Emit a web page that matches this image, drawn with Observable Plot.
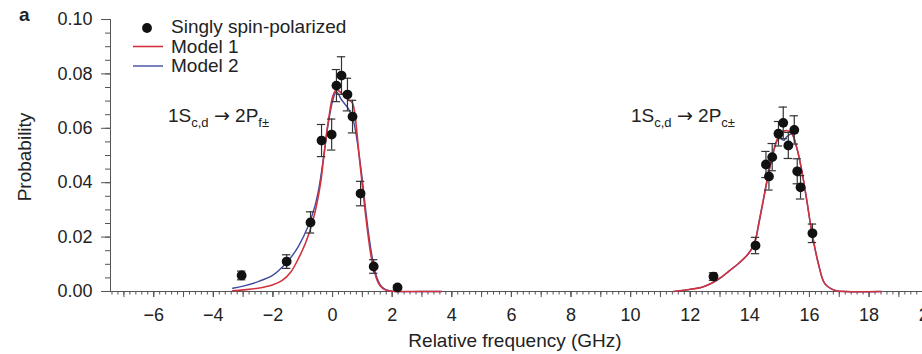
<!DOCTYPE html>
<html><head><meta charset="utf-8">
<script src="https://cdn.jsdelivr.net/npm/d3@7"></script>
<script src="https://cdn.jsdelivr.net/npm/@observablehq/plot@0.6"></script>
<style>
html,body{margin:0;padding:0;background:#fff;overflow:hidden;width:922px;height:354px}
#wrap{position:relative;width:922px;height:354px;overflow:hidden;font-family:"Liberation Sans",Arial,sans-serif;color:#222}
#wrap svg{display:block;max-width:none !important}
</style></head><body><div id="wrap"></div>
<script>
// ---- data ----
const pointFreq = [-3.05,-1.54,-0.74,-0.37,-0.03,0.13,0.30,0.50,0.67,0.94,1.38,2.18,
                   12.78,14.19,14.54,14.64,14.75,14.96,15.12,15.29,15.49,15.59,15.70,16.10];
const pointProb = [0.0059,0.0110,0.0254,0.0555,0.0577,0.0757,0.0794,0.0724,0.0643,0.0360,0.0092,0.0015,
                   0.0055,0.0169,0.0467,0.0423,0.0494,0.0580,0.0620,0.0537,0.0594,0.0442,0.0383,0.0214];
const pointErr  = [0.0016,0.0025,0.0039,0.0059,0.0057,0.0059,0.0069,0.0060,0.0060,0.0045,0.0025,0.0008,
                   0.0014,0.0030,0.0048,0.0050,0.0050,0.0045,0.0058,0.0048,0.0052,0.0046,0.0043,0.0034];

const model1LeftFreq = [-3.35,-3.0,-2.5,-2.0,-1.7,-1.4,-1.15,-0.9,-0.7,-0.55,-0.4,-0.3,-0.15,0.02,0.13,0.3,0.53,0.66,0.74,0.8,0.9,1.0,1.1,1.2,1.3,1.4,1.5,1.6,1.75,1.9,2.2,3.0,3.65];
const model1LeftProb = [0.0003,0.0006,0.0012,0.0025,0.0040,0.0072,0.0120,0.0180,0.0245,0.0310,0.0400,0.0490,0.0620,0.0722,0.0742,0.0729,0.0705,0.0694,0.0660,0.0604,0.0490,0.0390,0.0290,0.0200,0.0125,0.0075,0.0040,0.0020,0.0007,0.0002,0,0,0];
const model2LeftFreq = [-3.35,-3.0,-2.5,-2.0,-1.71,-1.4,-1.15,-0.82,-0.59,-0.45,-0.3,-0.15,0.02,0.13,0.3,0.53,0.69,0.8,0.9,1.0,1.1,1.2,1.3,1.4,1.5,1.6,1.75,1.9,2.1,3.0,3.65];
const model2LeftProb = [0.0012,0.0020,0.0036,0.0060,0.0087,0.0125,0.0165,0.0240,0.0315,0.0385,0.0495,0.0615,0.0708,0.0735,0.0705,0.0672,0.0632,0.0570,0.0495,0.0410,0.0310,0.0220,0.0145,0.0085,0.0048,0.0024,0.0009,0.0003,0,0,0];

const rightFreq   = [11.45,12.0,12.4,12.8,13.05,13.3,13.61,13.95,14.1,14.2,14.3,14.45,14.6,14.75,14.9,15.0,15.07,15.15,15.23,15.4,15.57,15.74,15.91,16.07,16.3,16.52,16.86,17.2,18.4];
const model1RightProb = [0,0.0008,0.0016,0.0035,0.0053,0.0075,0.0102,0.0139,0.0165,0.0195,0.0250,0.0335,0.0420,0.0495,0.0555,0.0578,0.0586,0.0590,0.0592,0.0582,0.0530,0.0445,0.0335,0.0224,0.0102,0.0028,0.0004,0,0];
const model2RightProb = [0,0.0008,0.0016,0.0035,0.0053,0.0075,0.0102,0.0139,0.0165,0.0195,0.0250,0.0335,0.0420,0.0495,0.0552,0.0565,0.0560,0.0556,0.0568,0.0580,0.0530,0.0445,0.0335,0.0224,0.0102,0.0028,0.0004,0,0];

const xDomain = [-7.45, 21];
const yDomain = [0, 0.10];
const xLabelTicks = [-6,-4,-2,0,2,4,6,8,10,12,14,16,18,20];
const yLabelTicks = [0,0.02,0.04,0.06,0.08,0.10];
const seriesNames = ["Singly spin-polarized", "Model 1", "Model 2"];
const xTitle = "Relative frequency (GHz)";
const yTitle = "Probability";

// ---- tables ----
const points = pointFreq.map((f,i)=>({freq:f, prob:pointProb[i], err:pointErr[i]}));
const toRows = (fs, ps) => fs.map((f,i)=>({freq:f, prob:ps[i]}));
const m1L = toRows(model1LeftFreq, model1LeftProb), m2L = toRows(model2LeftFreq, model2LeftProb);
const m1R = toRows(rightFreq, model1RightProb), m2R = toRows(rightFreq, model2RightProb);

const red = "#d2323f", blue = "#3d4b9c", axisCol = "#555";
const xMinor = d3.range(-37, 106).map(i=>i/5);
const xInt = d3.range(-7, 22);
const yMinor = d3.range(0, 21).map(i=>i*0.005);
const cap = 0.14;
const fmtX = d => d < 0 ? "\u2212" + (-d) : String(d);
const crv = "catmull-rom";

const plot = Plot.plot({
  width: 1000, height: 354,
  marginLeft: 110, marginTop: 19, marginBottom: 63, marginRight: 42,
  style: {fontFamily: '"Liberation Sans", Arial, sans-serif', fontSize: "18px", color: "#222", background: "transparent", maxWidth: "none"},
  x: {domain: xDomain, range: [110, 958], label: null},
  y: {domain: yDomain, label: null},
  marks: [
    Plot.ruleY([yDomain[0]], {stroke: axisCol, strokeWidth: 1}),
    Plot.ruleX([xDomain[0]], {y1: yDomain[0], y2: yDomain[1], stroke: axisCol, strokeWidth: 1}),
    Plot.axisX({ticks: xMinor, tickSize: 3.5, text: null, stroke: axisCol, label: null}),
    Plot.axisX({ticks: xInt, tickSize: 6, text: null, stroke: axisCol, label: null}),
    Plot.axisX({ticks: xLabelTicks, tickSize: 6, tickPadding: 11, tickFormat: fmtX, fontSize: 18, stroke: axisCol, label: null}),
    Plot.axisY({ticks: yMinor, tickSize: 5, text: null, stroke: axisCol, label: null}),
    Plot.axisY({ticks: yLabelTicks, tickSize: 9, tickPadding: 9, tickFormat: d3.format(".2f"), fontSize: 18, stroke: axisCol, label: null}),
    Plot.line(m2L, {x: "freq", y: "prob", stroke: blue, strokeWidth: 1.4, curve: crv}),
    Plot.line(m2R, {x: "freq", y: "prob", stroke: blue, strokeWidth: 1.4, curve: crv}),
    Plot.line(m1L, {x: "freq", y: "prob", stroke: red, strokeWidth: 1.6, curve: crv}),
    Plot.line(m1R, {x: "freq", y: "prob", stroke: red, strokeWidth: 1.6, curve: crv}),
    Plot.ruleX(points, {x: "freq", y1: d=>d.prob-d.err, y2: d=>d.prob+d.err, stroke: "#333", strokeWidth: 1.2}),
    Plot.ruleY(points, {y: d=>d.prob+d.err, x1: d=>d.freq-cap, x2: d=>d.freq+cap, stroke: "#333", strokeWidth: 1.2}),
    Plot.ruleY(points, {y: d=>d.prob-d.err, x1: d=>d.freq-cap, x2: d=>d.freq+cap, stroke: "#333", strokeWidth: 1.2}),
    Plot.dot(points, {x: "freq", y: "prob", r: 4.9, fill: "#111", stroke: "none"})
  ]
});
document.getElementById("wrap").appendChild(plot);

// ---- text overlays (panel letter, legend, annotations, axis titles) ----
const svg = d3.select(plot);
const g = svg.append("g").attr("font-family", '"Liberation Sans", Arial, sans-serif').attr("font-size", 19).attr("fill", "#222").attr("text-anchor", "start");
g.append("text").attr("x", 19).attr("y", 21).attr("font-weight", "bold").text("a");

// legend
g.append("circle").attr("cx", 147).attr("cy", 28).attr("r", 4.9).attr("fill", "#111");
g.append("text").attr("x", 171).attr("y", 32.5).text(seriesNames[0]);
g.append("line").attr("x1", 133).attr("x2", 163).attr("y1", 46.5).attr("y2", 46.5).attr("stroke", red).attr("stroke-width", 1.6);
g.append("text").attr("x", 171).attr("y", 52.5).text(seriesNames[1]);
g.append("line").attr("x1", 133).attr("x2", 163).attr("y1", 66).attr("y2", 66).attr("stroke", blue).attr("stroke-width", 1.4);
g.append("text").attr("x", 171).attr("y", 72).text(seriesNames[2]);

// annotations
function annot(x, y, sub2) {
  const t = g.append("text").attr("x", x).attr("y", y);
  t.append("tspan").text("1S");
  t.append("tspan").attr("font-size", 13).attr("dy", 5).text("c,d");
  t.append("tspan").attr("dy", -5).text(" ");
  t.append("tspan").attr("font-family", '"DejaVu Sans", sans-serif').attr("font-size", 19).text("\u2192");
  t.append("tspan").text(" 2P");
  t.append("tspan").attr("font-size", 13).attr("dy", 5).text(sub2);
}
annot(168, 122, "f\u00b1");
annot(631, 122, "c\u00b1");

// axis titles
g.append("text").attr("x", 515).attr("y", 347).attr("text-anchor", "middle").text(xTitle);
g.append("text").attr("transform", "translate(31,157) rotate(-90)").attr("text-anchor", "middle").text(yTitle);
</script>
</body></html>
